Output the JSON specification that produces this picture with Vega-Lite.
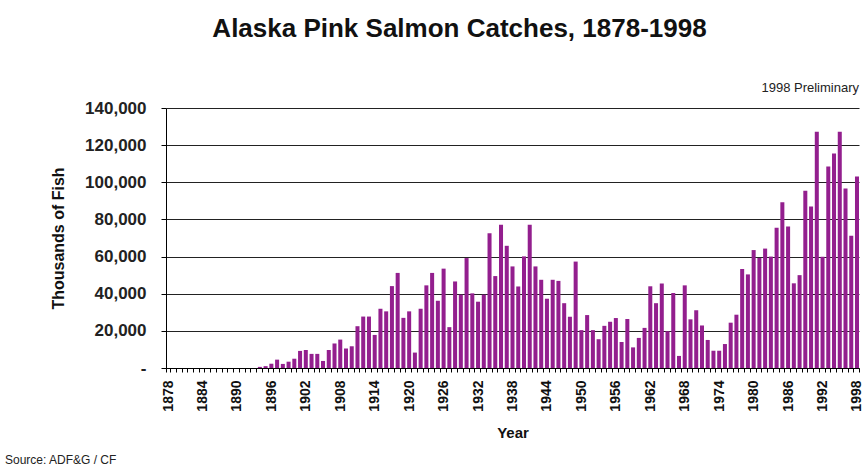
{
  "$schema": "https://vega.github.io/schema/vega-lite/v6.json",
  "width": 693,
  "height": 260,
  "autosize": {"type": "none"},
  "padding": {"left": 166, "top": 108, "right": 8, "bottom": 100},
  "background": "white",
  "title": {
    "text": "Alaska Pink Salmon Catches, 1878-1998",
    "font": "Liberation Sans",
    "fontSize": 26,
    "fontWeight": "bold",
    "color": "#111111",
    "anchor": "middle",
    "dx": -53,
    "offset": 40
  },
  "config": {"view": {"stroke": null}, "font": "Liberation Sans"},
  "resolve": {"axis": {"x": "independent", "y": "independent"}},
  "layer": [
    {
      "data": {
        "values": [
          {"year": 1878, "catch": 0}, {"year": 1879, "catch": 0}, {"year": 1880, "catch": 0},
          {"year": 1881, "catch": 0}, {"year": 1882, "catch": 0}, {"year": 1883, "catch": 0},
          {"year": 1884, "catch": 0}, {"year": 1885, "catch": 0}, {"year": 1886, "catch": 0},
          {"year": 1887, "catch": 0}, {"year": 1888, "catch": 0}, {"year": 1889, "catch": 0},
          {"year": 1890, "catch": 0}, {"year": 1891, "catch": 0}, {"year": 1892, "catch": 0},
          {"year": 1893, "catch": 0}, {"year": 1894, "catch": 600}, {"year": 1895, "catch": 1000},
          {"year": 1896, "catch": 2300}, {"year": 1897, "catch": 4500}, {"year": 1898, "catch": 2200},
          {"year": 1899, "catch": 3400}, {"year": 1900, "catch": 5000}, {"year": 1901, "catch": 9200},
          {"year": 1902, "catch": 9700}, {"year": 1903, "catch": 7600}, {"year": 1904, "catch": 7600},
          {"year": 1905, "catch": 3800}, {"year": 1906, "catch": 9700}, {"year": 1907, "catch": 13200},
          {"year": 1908, "catch": 15300}, {"year": 1909, "catch": 10500}, {"year": 1910, "catch": 11700},
          {"year": 1911, "catch": 22500}, {"year": 1912, "catch": 27700}, {"year": 1913, "catch": 27700},
          {"year": 1914, "catch": 17800}, {"year": 1915, "catch": 31900}, {"year": 1916, "catch": 30500},
          {"year": 1917, "catch": 44100}, {"year": 1918, "catch": 51200}, {"year": 1919, "catch": 27000},
          {"year": 1920, "catch": 30500}, {"year": 1921, "catch": 8300}, {"year": 1922, "catch": 31900},
          {"year": 1923, "catch": 44500}, {"year": 1924, "catch": 51200}, {"year": 1925, "catch": 36200},
          {"year": 1926, "catch": 53500}, {"year": 1927, "catch": 22000}, {"year": 1928, "catch": 46600},
          {"year": 1929, "catch": 39500}, {"year": 1930, "catch": 59200}, {"year": 1931, "catch": 40200},
          {"year": 1932, "catch": 35700}, {"year": 1933, "catch": 39500}, {"year": 1934, "catch": 72600},
          {"year": 1935, "catch": 49500}, {"year": 1936, "catch": 77100}, {"year": 1937, "catch": 65800},
          {"year": 1938, "catch": 54700}, {"year": 1939, "catch": 43900}, {"year": 1940, "catch": 60100},
          {"year": 1941, "catch": 77100}, {"year": 1942, "catch": 54700}, {"year": 1943, "catch": 47500},
          {"year": 1944, "catch": 37300}, {"year": 1945, "catch": 47500}, {"year": 1946, "catch": 46900},
          {"year": 1947, "catch": 34900}, {"year": 1948, "catch": 27600}, {"year": 1949, "catch": 57300},
          {"year": 1950, "catch": 20400}, {"year": 1951, "catch": 28500}, {"year": 1952, "catch": 20400},
          {"year": 1953, "catch": 15500}, {"year": 1954, "catch": 22700}, {"year": 1955, "catch": 24900},
          {"year": 1956, "catch": 26900}, {"year": 1957, "catch": 14000}, {"year": 1958, "catch": 26400},
          {"year": 1959, "catch": 11100}, {"year": 1960, "catch": 16200}, {"year": 1961, "catch": 21600},
          {"year": 1962, "catch": 44000}, {"year": 1963, "catch": 34900}, {"year": 1964, "catch": 45500},
          {"year": 1965, "catch": 19800}, {"year": 1966, "catch": 40400}, {"year": 1967, "catch": 6500},
          {"year": 1968, "catch": 44500}, {"year": 1969, "catch": 26200}, {"year": 1970, "catch": 31100},
          {"year": 1971, "catch": 22900}, {"year": 1972, "catch": 15100}, {"year": 1973, "catch": 9300},
          {"year": 1974, "catch": 9300}, {"year": 1975, "catch": 12900}, {"year": 1976, "catch": 24400},
          {"year": 1977, "catch": 28700}, {"year": 1978, "catch": 53300}, {"year": 1979, "catch": 50400},
          {"year": 1980, "catch": 63500}, {"year": 1981, "catch": 59300}, {"year": 1982, "catch": 64300},
          {"year": 1983, "catch": 60000}, {"year": 1984, "catch": 75500}, {"year": 1985, "catch": 89200},
          {"year": 1986, "catch": 76200}, {"year": 1987, "catch": 45600}, {"year": 1988, "catch": 50000},
          {"year": 1989, "catch": 95400}, {"year": 1990, "catch": 87000}, {"year": 1991, "catch": 127200},
          {"year": 1992, "catch": 59900}, {"year": 1993, "catch": 108500}, {"year": 1994, "catch": 115500},
          {"year": 1995, "catch": 127200}, {"year": 1996, "catch": 96700}, {"year": 1997, "catch": 71200},
          {"year": 1998, "catch": 103100}
        ]
      },
      "mark": {"type": "bar", "color": "#931F8E"},
      "encoding": {
        "x": {
          "field": "year",
          "type": "ordinal",
          "scale": {"paddingInner": 0.3, "paddingOuter": 0},
          "axis": {
            "title": "Year",
            "titleFontSize": 15,
            "titleFontWeight": "bold",
            "titleColor": "#111111",
            "titlePadding": 14,
            "labelAngle": 270,
            "labelFontSize": 14,
            "labelFontWeight": "bold",
            "labelColor": "#111111",
            "labelPadding": 8,
            "labelOverlap": false,
            "labelExpr": "(datum.value - 1878) % 6 == 0 ? datum.label : ''",
            "tickBand": "extent",
            "tickSize": 4,
            "tickColor": "#000000",
            "domainColor": "#000000",
            "grid": false
          }
        },
        "y": {
          "field": "catch",
          "type": "quantitative",
          "scale": {"domain": [0, 140000], "nice": false},
          "axis": {
            "title": "Thousands of Fish",
            "titleFontSize": 16,
            "titleFontWeight": "bold",
            "titleColor": "#111111",
            "titlePadding": 18,
            "values": [0, 20000, 40000, 60000, 80000, 100000, 120000, 140000],
            "labelExpr": "datum.value == 0 ? '-\u2007\u2007' : format(datum.value, ',.0f')",
            "labelFontSize": 17,
            "labelFontWeight": "bold",
            "labelColor": "#222222",
            "labelPadding": 15,
            "tickSize": 5,
            "tickColor": "#000000",
            "domainColor": "#000000",
            "grid": true,
            "gridColor": "#222222",
            "gridOpacity": 1
          }
        }
      }
    },
    {
      "data": {"values": [{"year": 1998, "catch": 150800, "note": "1998 Preliminary"}]},
      "mark": {"type": "text", "align": "right", "baseline": "middle", "fontSize": 13, "color": "#222222", "clip": false},
      "encoding": {
        "x": {"field": "year", "type": "ordinal", "bandPosition": 1, "axis": null},
        "y": {"field": "catch", "type": "quantitative", "scale": {"domain": [0, 140000], "nice": false}, "axis": null},
        "text": {"field": "note"}
      }
    },
    {
      "data": {"values": [{"year": 1878, "catch": -49500, "note": "Source: ADF&G / CF"}]},
      "mark": {"type": "text", "align": "left", "baseline": "middle", "fontSize": 12, "dx": -161, "color": "#222222", "clip": false},
      "encoding": {
        "x": {"field": "year", "type": "ordinal", "bandPosition": 0, "axis": null},
        "y": {"field": "catch", "type": "quantitative", "scale": {"domain": [0, 140000], "nice": false}, "axis": null},
        "text": {"field": "note"}
      }
    }
  ]
}
